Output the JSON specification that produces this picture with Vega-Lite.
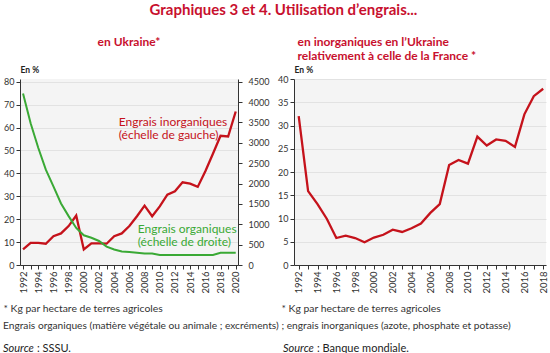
{
  "$schema": "https://vega.github.io/schema/vega-lite/v6.json",
  "padding": {"left": 3, "top": 3, "right": 2, "bottom": 2},
  "background": "white",
  "datasets": {
    "ukr": [
      {"year": 1992, "inorg": 6.8, "org": 4210},
      {"year": 1993, "inorg": 9.7, "org": 3480},
      {"year": 1994, "inorg": 9.7, "org": 2880},
      {"year": 1995, "inorg": 9.3, "org": 2340},
      {"year": 1996, "inorg": 12.6, "org": 1930},
      {"year": 1997, "inorg": 13.8, "org": 1510},
      {"year": 1998, "inorg": 17.0, "org": 1200},
      {"year": 1999, "inorg": 21.6, "org": 910},
      {"year": 2000, "inorg": 6.8, "org": 730},
      {"year": 2001, "inorg": 9.4, "org": 670},
      {"year": 2002, "inorg": 9.4, "org": 590},
      {"year": 2003, "inorg": 9.3, "org": 450},
      {"year": 2004, "inorg": 12.6, "org": 380},
      {"year": 2005, "inorg": 13.8, "org": 330},
      {"year": 2006, "inorg": 17.0, "org": 320},
      {"year": 2007, "inorg": 21.3, "org": 300},
      {"year": 2008, "inorg": 25.9, "org": 280},
      {"year": 2009, "inorg": 21.3, "org": 280},
      {"year": 2010, "inorg": 25.6, "org": 245},
      {"year": 2011, "inorg": 30.7, "org": 245},
      {"year": 2012, "inorg": 32.2, "org": 245},
      {"year": 2013, "inorg": 36.1, "org": 245},
      {"year": 2014, "inorg": 35.5, "org": 245},
      {"year": 2015, "inorg": 34.1, "org": 245},
      {"year": 2016, "inorg": 40.9, "org": 245},
      {"year": 2017, "inorg": 48.6, "org": 245},
      {"year": 2018, "inorg": 56.4, "org": 300},
      {"year": 2019, "inorg": 56.1, "org": 300},
      {"year": 2020, "inorg": 67.0, "org": 300}
    ],
    "fra": [
      {"year": 1992, "ratio": 32.0},
      {"year": 1993, "ratio": 15.9},
      {"year": 1994, "ratio": 13.1},
      {"year": 1995, "ratio": 9.9},
      {"year": 1996, "ratio": 5.8},
      {"year": 1997, "ratio": 6.3},
      {"year": 1998, "ratio": 5.8},
      {"year": 1999, "ratio": 4.9},
      {"year": 2000, "ratio": 5.9},
      {"year": 2001, "ratio": 6.5},
      {"year": 2002, "ratio": 7.6},
      {"year": 2003, "ratio": 7.1},
      {"year": 2004, "ratio": 7.9},
      {"year": 2005, "ratio": 8.9},
      {"year": 2006, "ratio": 11.2},
      {"year": 2007, "ratio": 13.1},
      {"year": 2008, "ratio": 21.5},
      {"year": 2009, "ratio": 22.6},
      {"year": 2010, "ratio": 21.8},
      {"year": 2011, "ratio": 27.6},
      {"year": 2012, "ratio": 25.7},
      {"year": 2013, "ratio": 27.0},
      {"year": 2014, "ratio": 26.7},
      {"year": 2015, "ratio": 25.4},
      {"year": 2016, "ratio": 32.4},
      {"year": 2017, "ratio": 36.3},
      {"year": 2018, "ratio": 37.9}
    ],
    "blank": [{"k": 1}]
  },
  "title": {
    "text": "Graphiques 3 et 4. Utilisation d’engrais...",
    "fontSize": 15,
    "font": "Lato",
    "fontWeight": "bold",
    "color": "#c8102e",
    "anchor": "middle",
    "offset": 18
  },
  "spacing": 10,
  "vconcat": [
    {
      "title": {
        "text": "Engrais organiques (matière végétale ou animale ; excréments) ; engrais inorganiques (azote, phosphate et potasse)",
        "orient": "bottom", "anchor": "start", "frame": "bounds",
        "fontSize": 10.2, "fontWeight": "normal", "color": "#333", "offset": 8
      },
      "spacing": 8,
      "hconcat": [
        {
          "width": 218,
          "height": 186,
          "title": {"text": ["en Ukraine*", " "], "anchor": "middle", "fontSize": 12, "fontWeight": "bold", "color": "#c8102e", "lineHeight": 14, "offset": 2},
          "resolve": {"scale": {"y": "independent"}},
          "layer": [
            {
              "layer": [
                {
                  "data": {"name": "ukr"},
                  "mark": {"type": "line", "color": "#c5121b", "strokeWidth": 2.3},
                  "encoding": {
                    "x": {"field": "year", "type": "quantitative", "scale": {"domain": [1991.6, 2020.3], "nice": false, "zero": false},
                      "axis": {"title": "* Kg par hectare de terres agricoles", "titleAnchor": "start", "titleAlign": "left", "titleX": -17, "titleFontWeight": "normal", "titleFontSize": 10.4, "titleColor": "#333", "titlePadding": 10,
                        "values": [1992,1993,1994,1995,1996,1997,1998,1999,2000,2001,2002,2003,2004,2005,2006,2007,2008,2009,2010,2011,2012,2013,2014,2015,2016,2017,2018,2019,2020],
                        "labelExpr": "datum.value % 2 == 0 ? datum.value : ''", "labelAngle": 270, "labelFontSize": 9.5, "labelOverlap": false, "labelFlush": false, "grid": false, "tickSize": 4}},
                    "y": {"field": "inorg", "type": "quantitative", "scale": {"domain": [0, 81.2], "nice": false},
                      "axis": {"values": [0,10,20,30,40,50,60,70,80], "title": "En %", "titleAngle": 0, "titleAlign": "left", "titleAnchor": "end", "titleBaseline": "bottom", "titleX": 0, "titleY": -5, "grid": true, "tickSize": 4, "labelOverlap": false}}
                  }
                },
                {
                  "data": {"name": "blank"},
                  "mark": {"type": "text", "text": ["Engrais inorganiques", "(échelle de gauche)"], "color": "#c5121b", "fontSize": 12, "lineHeight": 13.5, "align": "left", "baseline": "middle"},
                  "encoding": {
                    "x": {"datum": 2004.6, "type": "quantitative",
                      "axis": {"title": "* Kg par hectare de terres agricoles", "titleAnchor": "start", "titleAlign": "left", "titleX": -17, "titleFontWeight": "normal", "titleFontSize": 10.4, "titleColor": "#333", "titlePadding": 10,
                        "values": [1992,1993,1994,1995,1996,1997,1998,1999,2000,2001,2002,2003,2004,2005,2006,2007,2008,2009,2010,2011,2012,2013,2014,2015,2016,2017,2018,2019,2020],
                        "labelExpr": "datum.value % 2 == 0 ? datum.value : ''", "labelAngle": 270, "labelFontSize": 9.5, "labelOverlap": false, "labelFlush": false, "grid": false, "tickSize": 4}},
                    "y": {"datum": 62.6, "type": "quantitative",
                      "axis": {"values": [0,10,20,30,40,50,60,70,80], "title": "En %", "titleAngle": 0, "titleAlign": "left", "titleAnchor": "end", "titleBaseline": "bottom", "titleX": 0, "titleY": -5, "grid": true, "tickSize": 4, "labelOverlap": false}}
                  }
                },
                {
                  "data": {"name": "blank"},
                  "mark": {"type": "text", "text": ["Engrais organiques", "(échelle de droite)"], "color": "#3aa935", "fontSize": 12, "lineHeight": 13.5, "align": "left", "baseline": "middle"},
                  "encoding": {
                    "x": {"datum": 2007.1, "type": "quantitative",
                      "axis": {"title": "* Kg par hectare de terres agricoles", "titleAnchor": "start", "titleAlign": "left", "titleX": -17, "titleFontWeight": "normal", "titleFontSize": 10.4, "titleColor": "#333", "titlePadding": 10,
                        "values": [1992,1993,1994,1995,1996,1997,1998,1999,2000,2001,2002,2003,2004,2005,2006,2007,2008,2009,2010,2011,2012,2013,2014,2015,2016,2017,2018,2019,2020],
                        "labelExpr": "datum.value % 2 == 0 ? datum.value : ''", "labelAngle": 270, "labelFontSize": 9.5, "labelOverlap": false, "labelFlush": false, "grid": false, "tickSize": 4}},
                    "y": {"datum": 15.8, "type": "quantitative",
                      "axis": {"values": [0,10,20,30,40,50,60,70,80], "title": "En %", "titleAngle": 0, "titleAlign": "left", "titleAnchor": "end", "titleBaseline": "bottom", "titleX": 0, "titleY": -5, "grid": true, "tickSize": 4, "labelOverlap": false}}
                  }
                }
              ]
            },
            {
              "data": {"name": "ukr"},
              "mark": {"type": "line", "color": "#3aa935", "strokeWidth": 2},
              "encoding": {
                "x": {"field": "year", "type": "quantitative",
                  "axis": {"title": "* Kg par hectare de terres agricoles", "titleAnchor": "start", "titleAlign": "left", "titleX": -17, "titleFontWeight": "normal", "titleFontSize": 10.4, "titleColor": "#333", "titlePadding": 10,
                    "values": [1992,1993,1994,1995,1996,1997,1998,1999,2000,2001,2002,2003,2004,2005,2006,2007,2008,2009,2010,2011,2012,2013,2014,2015,2016,2017,2018,2019,2020],
                    "labelExpr": "datum.value % 2 == 0 ? datum.value : ''", "labelAngle": 270, "labelFontSize": 9.5, "labelOverlap": false, "labelFlush": false, "grid": false, "tickSize": 4}},
                "y": {"field": "org", "type": "quantitative", "scale": {"domain": [0, 4567], "nice": false},
                  "axis": {"orient": "right", "format": "d", "values": [0,500,1000,1500,2000,2500,3000,3500,4000,4500], "title": null, "grid": false, "tickSize": 4, "labelPadding": 6, "labelOverlap": false}}
              }
            }
          ]
        },
        {
          "width": 252,
          "height": 186,
          "title": {"text": ["en inorganiques en l’Ukraine", "relativement à celle de la France *"], "anchor": "start", "align": "left", "dx": 20, "fontSize": 12, "fontWeight": "bold", "color": "#c8102e", "lineHeight": 14, "offset": 2},
          "data": {"name": "fra"},
          "mark": {"type": "line", "color": "#c5121b", "strokeWidth": 2.3},
          "encoding": {
            "x": {"field": "year", "type": "quantitative", "scale": {"domain": [1991.5, 2018.3], "nice": false, "zero": false},
              "axis": {"title": "* Kg par hectare de terres agricoles", "titleAnchor": "start", "titleAlign": "left", "titleX": -13, "titleFontWeight": "normal", "titleFontSize": 10.4, "titleColor": "#333", "titlePadding": 10,
                "values": [1992,1993,1994,1995,1996,1997,1998,1999,2000,2001,2002,2003,2004,2005,2006,2007,2008,2009,2010,2011,2012,2013,2014,2015,2016,2017,2018],
                "labelExpr": "datum.value % 2 == 0 ? datum.value : ''", "labelAngle": 270, "labelFontSize": 9.5, "labelOverlap": false, "labelFlush": false, "grid": false, "tickSize": 4}},
            "y": {"field": "ratio", "type": "quantitative", "scale": {"domain": [0, 40], "nice": false},
              "axis": {"values": [0,5,10,15,20,25,30,35,40], "title": "En %", "titleAngle": 0, "titleAlign": "left", "titleAnchor": "end", "titleBaseline": "bottom", "titleX": 0, "titleY": -5, "grid": true, "tickSize": 4, "labelOverlap": false}}
          }
        }
      ]
    },
    {
      "bounds": "flush",
      "spacing": 0,
      "hconcat": [
        {
          "width": 34, "height": 1,
          "view": {"fill": null, "stroke": null},
          "data": {"name": "blank"},
          "mark": {"type": "text", "text": ""},
          "encoding": {},
          "title": {"text": "Source", "anchor": "start", "dx": -17, "fontSize": 11, "fontStyle": "italic", "fontWeight": "normal", "color": "#222", "offset": 2}
        },
        {
          "width": 246, "height": 1,
          "view": {"fill": null, "stroke": null},
          "data": {"name": "blank"},
          "mark": {"type": "text", "text": ""},
          "encoding": {},
          "title": {"text": ": SSSU.", "anchor": "start", "dx": -17, "fontSize": 11, "fontWeight": "normal", "color": "#222", "offset": 2}
        },
        {
          "width": 34, "height": 1,
          "view": {"fill": null, "stroke": null},
          "data": {"name": "blank"},
          "mark": {"type": "text", "text": ""},
          "encoding": {},
          "title": {"text": "Source", "anchor": "start", "dx": -17, "fontSize": 11, "fontStyle": "italic", "fontWeight": "normal", "color": "#222", "offset": 2}
        },
        {
          "width": 230, "height": 1,
          "view": {"fill": null, "stroke": null},
          "data": {"name": "blank"},
          "mark": {"type": "text", "text": ""},
          "encoding": {},
          "title": {"text": ": Banque mondiale.", "anchor": "start", "dx": -17, "fontSize": 11, "fontWeight": "normal", "color": "#222", "offset": 2}
        }
      ]
    }
  ],
  "config": {
    "font": "Lato",
    "view": {"fill": "#f4f4f4", "stroke": null},
    "axis": {
      "labelFont": "Lato", "labelFontSize": 9, "labelColor": "#333",
      "domainColor": "#333", "tickColor": "#333", "gridColor": "#e2e2e2",
      "labelPadding": 2, "titleFont": "Lato", "titleFontSize": 8.5, "titleFontWeight": "bold", "titleColor": "#222"
    },
    "title": {"font": "Lato", "subtitleFont": "Lato"}
  }
}
